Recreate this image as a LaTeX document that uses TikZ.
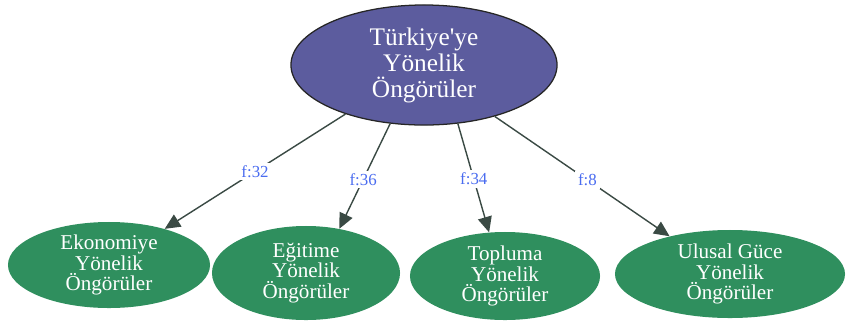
\documentclass[tikz,border=0pt]{standalone}
\usepackage{fontspec}
\setmainfont{Liberation Serif}
\usetikzlibrary{shapes.geometric,arrows.meta}
\definecolor{topfill}{HTML}{5C5C9E}
\definecolor{leaffill}{HTML}{2F8F5E}
\definecolor{arrowcol}{HTML}{3A4A44}
\definecolor{labelcol}{HTML}{4A6CF0}
\tikzset{
  topnode/.style={ellipse, draw=black!85, line width=0.9pt, fill=topfill, text=white,
    inner sep=0pt, align=center, font=\fontsize{18}{18.5}\selectfont},
  leafnode/.style={ellipse, fill=leaffill, text=white, inner sep=0pt, align=center,
    font=\fontsize{15}{14.5}\selectfont},
  link/.style={draw=arrowcol, line width=1pt, -{Triangle[length=11pt,width=10pt]}},
  freq/.style={fill=white, text=labelcol, inner sep=2pt, font=\fontsize{12}{12}\selectfont}
}

\begin{document}
\begin{tikzpicture}[x=0.025cm, y=-0.025cm]
  \useasboundingbox (0,0) rectangle (847,325);
  % top
  \node[topnode, minimum width=6.65cm, minimum height=3cm] (turkiye) at (424,65)
    {T\"urkiye\textquotesingle ye\\Y\"onelik\\\"Ong\"or\"uler};
  % leaves
  \node[leafnode, minimum width=5.05cm, minimum height=2.15cm] (ekonomi) at (109,265)
    {Ekonomiye\\Y\"onelik\\\"Ong\"or\"uler};
  \node[leafnode, minimum width=4.7cm, minimum height=2.35cm] (egitim) at (306,273)
    {E\u{g}itime\\Y\"onelik\\\"Ong\"or\"uler};
  \node[leafnode, minimum width=4.75cm, minimum height=2.2cm] (toplum) at (505,276)
    {Topluma\\Y\"onelik\\\"Ong\"or\"uler};
  \node[leafnode, minimum width=5.75cm, minimum height=2.2cm] (ulusal) at (730,274)
    {Ulusal G\"uce\\Y\"onelik\\\"Ong\"or\"uler};
  % links
  \draw[link] (turkiye.212) -- node[freq, pos=0.50] {f:32} (ekonomi.33);
  \draw[link] (turkiye.240) -- node[freq, pos=0.53] {f:36} (egitim.53);
  \draw[link] (turkiye.300) -- node[freq, pos=0.51] {f:34} (toplum.110);
  \draw[link] (turkiye.324) -- node[freq, pos=0.53] {f:8} (ulusal.148);
\end{tikzpicture}
\end{document}
